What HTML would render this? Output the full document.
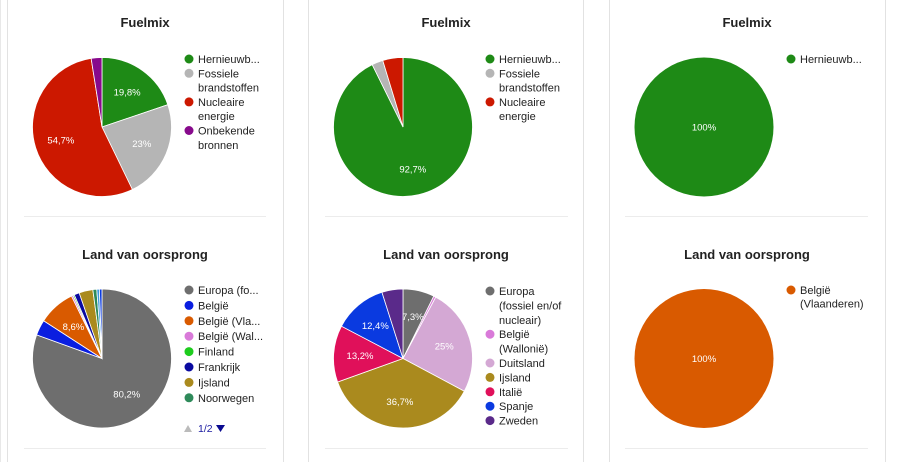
<!DOCTYPE html>
<html><head><meta charset="utf-8"><style>
body{margin:0;background:#fff;width:900px;height:462px;overflow:hidden;font-family:"Liberation Sans",sans-serif}
svg{position:absolute;left:0;top:0}
</style></head><body>
<svg id="s" width="900" height="462" xmlns="http://www.w3.org/2000/svg" font-family="Liberation Sans, sans-serif">
<rect x="7.5" y="-2" width="276" height="470" fill="none" stroke="#e2e2e2"/>
<rect x="308.5" y="-2" width="275" height="470" fill="none" stroke="#e2e2e2"/>
<rect x="609.5" y="-2" width="276" height="470" fill="none" stroke="#e2e2e2"/>
<line x1="0.5" y1="0" x2="0.5" y2="462" stroke="#e8e8e8"/>
<line x1="24" y1="216.5" x2="266" y2="216.5" stroke="#ececec"/>
<line x1="325" y1="216.5" x2="568" y2="216.5" stroke="#ececec"/>
<line x1="625" y1="216.5" x2="868" y2="216.5" stroke="#ececec"/>
<line x1="24" y1="448.5" x2="266" y2="448.5" stroke="#ececec"/>
<line x1="325" y1="448.5" x2="568" y2="448.5" stroke="#ececec"/>
<line x1="625" y1="448.5" x2="868" y2="448.5" stroke="#ececec"/>
<g font-weight="bold" font-size="13" fill="#222" text-anchor="middle">
<text x="145" y="27">Fuelmix</text><text x="446" y="27">Fuelmix</text><text x="747" y="27">Fuelmix</text>
<text x="145" y="259">Land van oorsprong</text><text x="446" y="259">Land van oorsprong</text><text x="747" y="259">Land van oorsprong</text>
</g>
<g id="pies"></g>
<g font-size="11" fill="#222" id="leg"></g>
<polygon points="184,432 192,432 188,425" fill="#bbb"/>
<text x="198" y="432" font-size="10.5" fill="#1a1aa0">1/2</text>
<polygon points="216,425 225,425 220.5,432" fill="#0a0a90"/>
</svg>
<script>
function pie(cx,cy,r,data){
  var g=document.getElementById('pies'),ns='http://www.w3.org/2000/svg',a=0,tot=0;
  data.forEach(d=>tot+=d[0]);
  data.forEach(function(d,i){
    var v=d[0]/tot;
    if(v>=0.9999){var c=document.createElementNS(ns,'circle');c.setAttribute('cx',cx);c.setAttribute('cy',cy);c.setAttribute('r',r);c.setAttribute('fill',d[1]);g.appendChild(c);}
    else{
    var a1=a+v*2*Math.PI;
    var x0=cx+r*Math.sin(a),y0=cy-r*Math.cos(a),x1=cx+r*Math.sin(a1),y1=cy-r*Math.cos(a1);
    var p=document.createElementNS(ns,'path');
    p.setAttribute('d','M'+cx+','+cy+'L'+x0+','+y0+'A'+r+','+r+' 0 '+(v>0.5?1:0)+' 1 '+x1+','+y1+'Z');
    p.setAttribute('fill',d[1]);p.setAttribute('stroke','#fff');p.setAttribute('stroke-width','0.8');g.appendChild(p);}
    if(d[2]){var m=a+v*Math.PI,t=document.createElementNS(ns,'text');
      var rr=v>=0.9999?0:r*0.62;
      t.setAttribute('x',cx+rr*Math.sin(m));t.setAttribute('y',cy-rr*Math.cos(m)+3.5);
      t.setAttribute('font-size','9.5');t.setAttribute('fill','#fff');t.setAttribute('text-anchor','middle');t.textContent=d[2];g.appendChild(t);}
    a+=v*2*Math.PI;
  });
}
pie(102,127,69.5,[[19.8,'#1e8a16','19,8%'],[23,'#b5b5b5','23%'],[54.7,'#cc1800','54,7%'],[2.5,'#870a8c']]);
pie(403,127,69.5,[[92.7,'#1e8a16','92,7%'],[2.6,'#b5b5b5'],[4.7,'#cc1800']]);
pie(704,127,69.5,[[100,'#1e8a16','100%']]);
pie(102,358.5,69.5,[[80.2,'#6e6e6e','80,2%'],[3.6,'#0a1ee0'],[8.6,'#d95a00','8,6%'],[0.4,'#d97ad9'],[0.3,'#1ecc1e'],[1.2,'#0a0aa0'],[3.2,'#aa8a1e'],[0.9,'#2e8a5a'],[0.6,'#3a9ae0'],[0.6,'#0a3ae0']]);
pie(403,358.5,69.5,[[7.3,'#6e6e6e','7,3%'],[0.5,'#d97ad9'],[25,'#d4a8d4','25%'],[36.7,'#aa8a1e','36,7%'],[13.2,'#e0105a','13,2%'],[12.4,'#0a3ae0','12,4%'],[4.9,'#5a2a8a']]);
pie(704,358.5,69.5,[[100,'#d95a00','100%']]);
function leg(x,y0,step,items){
  var g=document.getElementById('leg'),ns='http://www.w3.org/2000/svg',y=y0;
  items.forEach(function(it){
    var c=document.createElementNS(ns,'circle');c.setAttribute('cx',x);c.setAttribute('cy',y);c.setAttribute('r',4.5);c.setAttribute('fill',it[0]);g.appendChild(c);
    it[1].split('|').forEach(function(l){var t=document.createElementNS(ns,'text');t.setAttribute('x',x+9);t.setAttribute('y',y+4);t.textContent=l;g.appendChild(t);y+=step;});
  });
}
leg(189,59,14.3,[['#1e8a16','Hernieuwb...'],['#b5b5b5','Fossiele|brandstoffen'],['#cc1800','Nucleaire|energie'],['#870a8c','Onbekende|bronnen']]);
leg(490,59,14.3,[['#1e8a16','Hernieuwb...'],['#b5b5b5','Fossiele|brandstoffen'],['#cc1800','Nucleaire|energie']]);
leg(791,59,14.3,[['#1e8a16','Hernieuwb...']]);
leg(189,290,15.4,[['#6e6e6e','Europa (fo...'],['#0a1ee0','België'],['#d95a00','België (Vla...'],['#d97ad9','België (Wal...'],['#1ecc1e','Finland'],['#0a0aa0','Frankrijk'],['#aa8a1e','Ijsland'],['#2e8a5a','Noorwegen']]);
leg(490,291,14.4,[['#6e6e6e','Europa|(fossiel en/of|nucleair)'],['#d97ad9','België|(Wallonië)'],['#d4a8d4','Duitsland'],['#aa8a1e','Ijsland'],['#e0105a','Italië'],['#0a3ae0','Spanje'],['#5a2a8a','Zweden']]);
leg(791,290,13.5,[['#d95a00','België|(Vlaanderen)']]);
</script>
</body></html>
